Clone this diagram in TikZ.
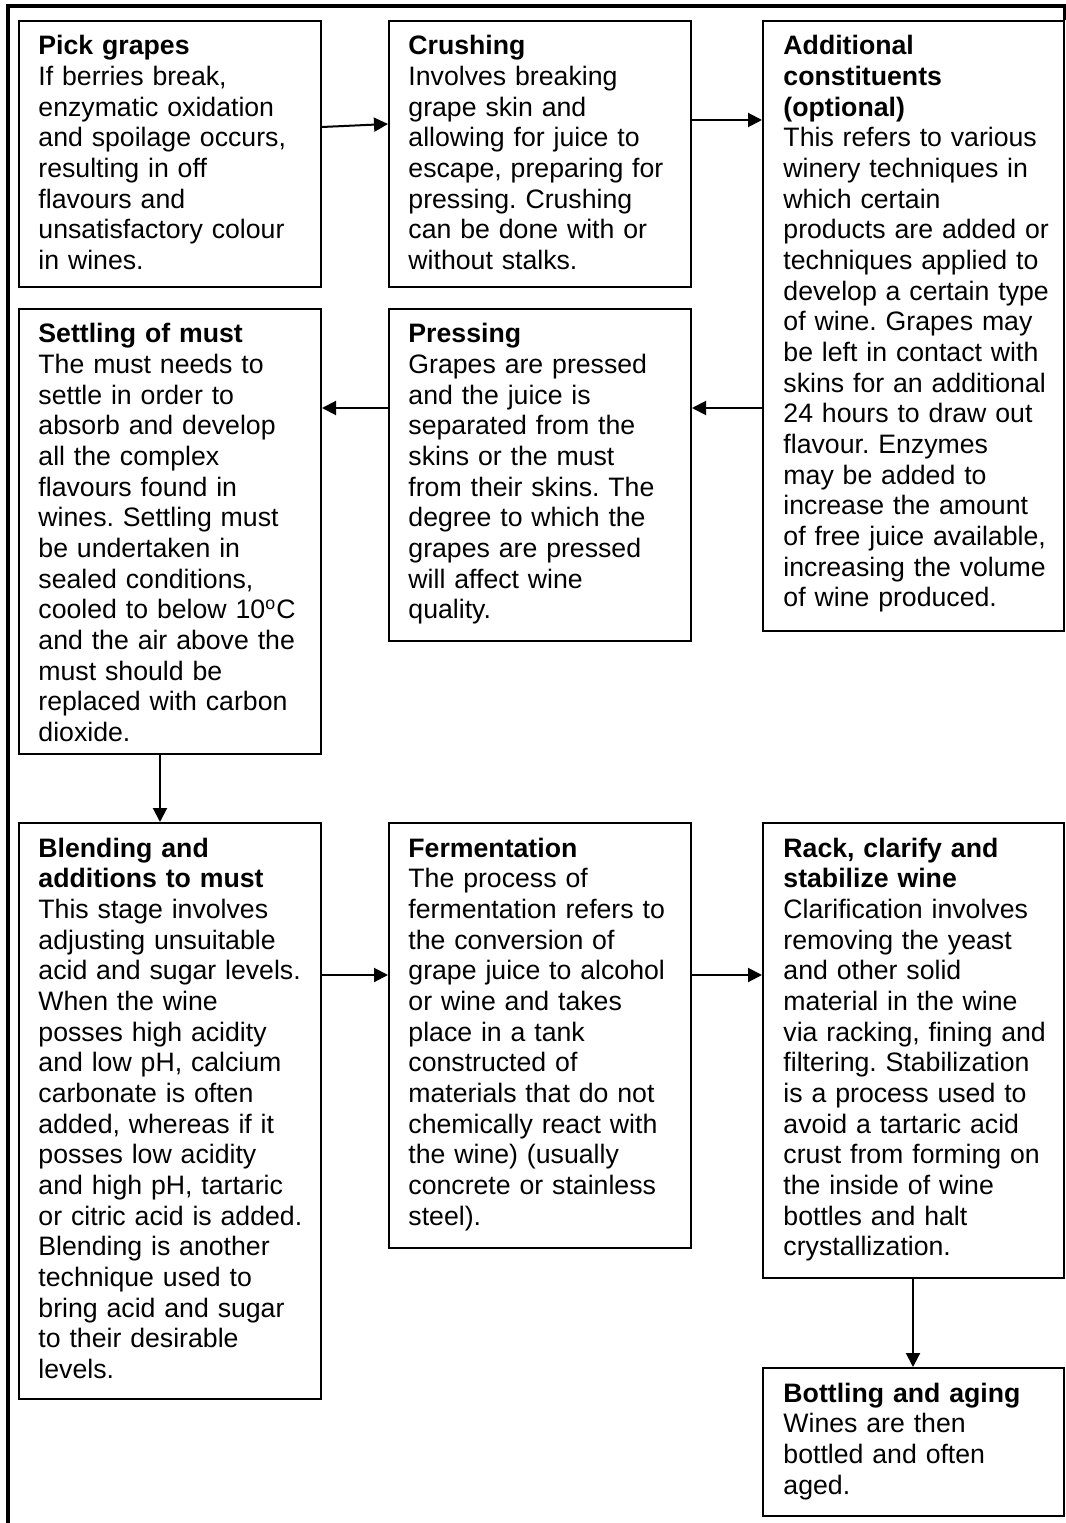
\documentclass[tikz,border=0pt]{standalone}
\usepackage{fontspec}
\setmainfont{Liberation Sans}
\usetikzlibrary{arrows.meta,calc}
\frenchspacing
\begin{document}
\begin{tikzpicture}[x=0.45pt,y=-0.45pt,
  box/.style={draw,line width=0.9pt,rectangle,inner sep=0pt,anchor=north west,minimum width=302*0.45pt},
  txt/.style={anchor=base west,inner sep=0pt,text width=300*0.45pt,align=left,font=\fontsize{12pt}{13.8pt}\selectfont},
  arr/.style={line width=0.9pt,-{Triangle[length=6.3pt,width=6.3pt]}},
  frame/.style={line width=1.4pt}]
\useasboundingbox (0,0) rectangle (1066,1523);
\draw[frame] (8,1523) -- (8,6) -- (1065,6) -- (1065,20);

% boxes
\node[box,minimum height=266*0.45pt] (pick) at (18,20) {};
\node[box,minimum height=266*0.45pt] (crush) at (388,20) {};
\node[box,minimum width=301*0.45pt,minimum height=610*0.45pt] (addc) at (762,20) {};
\node[box,minimum height=445*0.45pt] (settle) at (18,308) {};
\node[box,minimum height=332*0.45pt] (press) at (388,308) {};
\node[box,minimum height=576*0.45pt] (blend) at (18,822) {};
\node[box,minimum height=425*0.45pt] (ferm) at (388,822) {};
\node[box,minimum width=301*0.45pt,minimum height=455*0.45pt] (rack) at (762,822) {};
\node[box,minimum width=301*0.45pt,minimum height=148*0.45pt] (bottle) at (762,1367) {};

% texts
\node[txt] (tpick) at ($(pick.north west)+(20,35)$) {\textbf{Pick grapes}\\
If berries break,\\
enzymatic oxidation\\
and spoilage occurs,\\
resulting in off\\
flavours and\\
unsatisfactory colour\\
in wines.};
\node[txt] (tcrush) at ($(crush.north west)+(20,35)$) {\textbf{Crushing}\\
Involves breaking\\
grape skin and\\
allowing for juice to\\
escape, preparing for\\
pressing. Crushing\\
can be done with or\\
without stalks.};
\node[txt] (taddc) at ($(addc.north west)+(21,35)$) {\textbf{Additional}\\
\textbf{constituents}\\
\textbf{(optional)}\\
This refers to various\\
winery techniques in\\
which certain\\
products are added or\\
techniques applied to\\
develop a certain type\\
of wine. Grapes may\\
be left in contact with\\
skins for an additional\\
24 hours to draw out\\
flavour. Enzymes\\
may be added to\\
increase the amount\\
of free juice available,\\
increasing the volume\\
of wine produced.};
\node[txt] (tsettle) at ($(settle.north west)+(20,35)$) {\textbf{Settling of must}\\
The must needs to\\
settle in order to\\
absorb and develop\\
all the complex\\
flavours found in\\
wines. Settling must\\
be undertaken in\\
sealed conditions,\\
cooled to below 10\textsuperscript{o}C\\
and the air above the\\
must should be\\
replaced with carbon\\
dioxide.};
\node[txt] (tpress) at ($(press.north west)+(20,35)$) {\textbf{Pressing}\\
Grapes are pressed\\
and the juice is\\
separated from the\\
skins or the must\\
from their skins. The\\
degree to which the\\
grapes are pressed\\
will affect wine\\
quality.};
\node[txt] (tblend) at ($(blend.north west)+(20,35)$) {\textbf{Blending and}\\
\textbf{additions to must}\\
This stage involves\\
adjusting unsuitable\\
acid and sugar levels.\\
When the wine\\
posses high acidity\\
and low pH, calcium\\
carbonate is often\\
added, whereas if it\\
posses low acidity\\
and high pH, tartaric\\
or citric acid is added.\\
Blending is another\\
technique used to\\
bring acid and sugar\\
to their desirable\\
levels.};
\node[txt] (tferm) at ($(ferm.north west)+(20,35)$) {\textbf{Fermentation}\\
The process of\\
fermentation refers to\\
the conversion of\\
grape juice to alcohol\\
or wine and takes\\
place in a tank\\
constructed of\\
materials that do not\\
chemically react with\\
the wine) (usually\\
concrete or stainless\\
steel).};
\node[txt] (track) at ($(rack.north west)+(21,35)$) {\textbf{Rack, clarify and}\\
\textbf{stabilize wine}\\
Clarification involves\\
removing the yeast\\
and other solid\\
material in the wine\\
via racking, fining and\\
filtering. Stabilization\\
is a process used to\\
avoid a tartaric acid\\
crust from forming on\\
the inside of wine\\
bottles and halt\\
crystallization.};
\node[txt] (tbottle) at ($(bottle.north west)+(21,35)$) {\textbf{Bottling and aging}\\
Wines are then\\
bottled and often\\
aged.};

% connectors
\draw[arr] (pick.east |- 0,127) -- (crush.west |- 0,124);
\draw[arr] (crush.east |- 0,120) -- (addc.west |- 0,120);
\draw[arr] (addc.west |- 0,408) -- (press.east |- 0,408);
\draw[arr] (press.west |- 0,408) -- (settle.east |- 0,408);
\draw[arr] (settle.south -| 160,0) -- (blend.north -| 160,0);
\draw[arr] (blend.east |- 0,975) -- (ferm.west |- 0,975);
\draw[arr] (ferm.east |- 0,975) -- (rack.west |- 0,975);
\draw[arr] (rack.south -| 913,0) -- (bottle.north -| 913,0);
\end{tikzpicture}
\end{document}
